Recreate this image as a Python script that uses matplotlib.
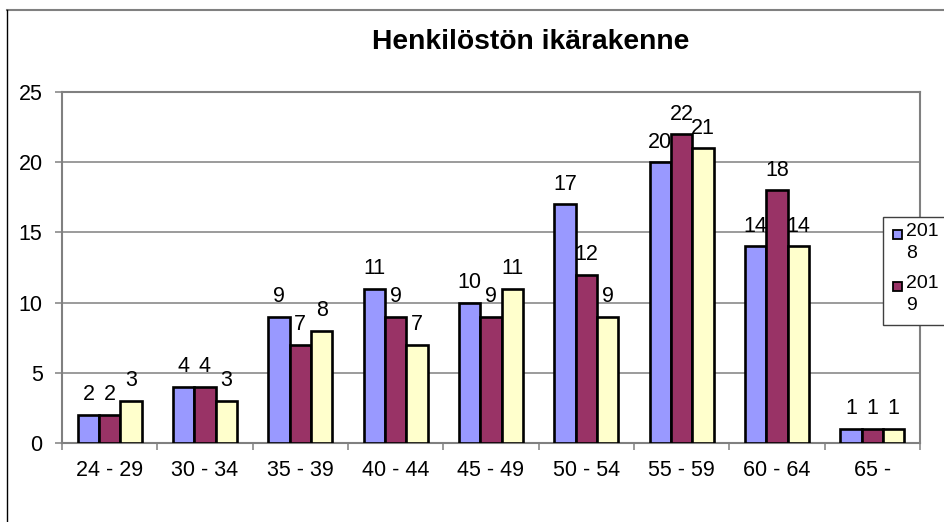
import numpy as np
import matplotlib.pyplot as plt
from matplotlib.patches import Rectangle
from matplotlib.lines import Line2D

plt.rcParams['font.family'] = ['Liberation Sans', 'DejaVu Sans']

# ---------- data ----------
categories = ["24 - 29", "30 - 34", "35 - 39", "40 - 44", "45 - 49",
              "50 - 54", "55 - 59", "60 - 64", "65 -"]
v2018 = [2, 4, 9, 11, 10, 17, 20, 14, 1]
v2019 = [2, 4, 7, 9, 9, 12, 22, 18, 1]
v2020 = [3, 3, 8, 7, 11, 9, 21, 14, 1]
series_names = ["2018", "2019", "2020"]
legend_labels = ["201\n8", "201\n9"]   # wrapped as in the original, 3rd entry cut off
colors = ["#9999FF", "#993366", "#FFFFCC"]

W, H = 945, 522
fig = plt.figure(figsize=(W / 100, H / 100), dpi=100)

# chart area frame (runs off the right / bottom edge)
fig.add_artist(Line2D([7 / W, 1.0], [1 - 10 / H, 1 - 10 / H], color="#808080", lw=1.5))
fig.add_artist(Line2D([7 / W, 7 / W], [0, 1 - 10 / H], color="black", lw=1.0))

# plot area
L, R, T, B = 62, 920, 92, 443
ax = fig.add_axes([L / W, 1 - B / H, (R - L) / W, (B - T) / H])

x = np.arange(len(categories))
bw = 0.223
for i, (vals, c, name) in enumerate(zip([v2018, v2019, v2020], colors, series_names)):
    bars = ax.bar(x + (i - 1) * bw, vals, bw, color=c, edgecolor="black",
                  linewidth=1.9, label=name, zorder=3)
    for rect, v in zip(bars, vals):
        ax.annotate(str(v), (rect.get_x() + rect.get_width() / 2, rect.get_height()),
                    xytext=(0, 10.5), textcoords="offset points",
                    ha="center", va="baseline", fontsize=15.5, zorder=4)

ax.set_xlim(-0.5, len(categories) - 0.5)
ax.set_ylim(0, 25)
ax.set_yticks(range(0, 26, 5))
ax.yaxis.grid(True, color="#808080", lw=1.1, zorder=0)
ax.set_axisbelow(True)

ax.set_xticks(x)
ax.set_xticklabels(categories, fontsize=15.5)
ax.set_xticks(np.arange(-0.5, len(categories), 1), minor=True)
ax.tick_params(axis="x", which="major", length=0, pad=12)
ax.tick_params(axis="x", which="minor", length=5, width=1.1, color="#808080", direction="out")
ax.tick_params(axis="y", length=5, width=1.1, color="#808080", labelsize=15.5, pad=9)

for s in ax.spines.values():
    s.set_color("#808080")
    s.set_linewidth(1.5)

# title centred over the chart area
fig.text(531 / W, 1 - 42 / H, "Henkilöstön ikärakenne", ha="center", va="center",
         fontsize=20.3, fontweight="bold")

# legend (box clipped at the right edge)
fig.add_artist(Rectangle((883 / W, 1 - 325 / H), 100 / W, 108 / H, transform=fig.transFigure,
                         facecolor="white", edgecolor="#404040", lw=1.0, zorder=5))
for j, (lab, c) in enumerate(zip(legend_labels, colors[:2])):
    ytop = 230 + j * 52
    fig.add_artist(Rectangle((893 / W, 1 - (ytop + 9) / H), 9 / W, 9 / H, transform=fig.transFigure,
                             facecolor=c, edgecolor="black", lw=1.3, zorder=6))
    fig.text(906 / W, 1 - (ytop - 7) / H, lab, ha="left", va="top", fontsize=14,
             linespacing=1.35, zorder=7)

fig.savefig("out.png", dpi=100)
